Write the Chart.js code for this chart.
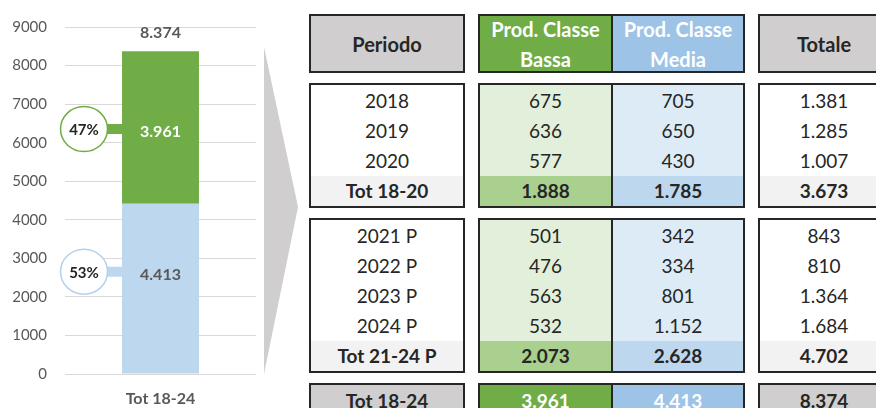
<!DOCTYPE html>
<html><head><meta charset="utf-8">
<script src="https://cdn.jsdelivr.net/npm/chart.js@4.4.1/dist/chart.umd.min.js"></script>
<style>
html,body{margin:0;padding:0;background:#fff;width:876px;height:408px;overflow:hidden;font-family:Lato,sans-serif;}
#wrap{position:relative;width:876px;height:408px;overflow:hidden;}
#chart{position:absolute;left:0;top:0;}
.box{position:absolute;box-sizing:border-box;border:2px solid #262626;overflow:hidden;display:flex;flex-direction:column;}
.row{display:flex;flex:none;width:100%;}
.cell{display:flex;align-items:center;justify-content:center;box-sizing:border-box;color:#262626;font-size:19px;white-space:nowrap;text-align:center;}
</style></head><body>
<div id="wrap">
<svg width="876" height="408" style="position:absolute;left:0;top:0"><polygon points="264,47 298,207 264,374" fill="#d0cece"/></svg>
<canvas id="chart" width="256" height="408"></canvas>
<div id="table"></div>
</div>
<script>
// ---- data ----
const categories = ['Tot 18-24'];
const serieBassa = [3961];
const serieMedia = [4413];
const serieTotale = [8374];

const headers = ['Periodo', 'Prod. Classe<br>Bassa', 'Prod. Classe<br>Media', 'Totale'];

const periodi1 = ['2018', '2019', '2020'];
const bassa1 = [675, 636, 577];
const media1 = [705, 650, 430];
const totale1 = [1381, 1285, 1007];
const sub1 = ['Tot 18-20', 1888, 1785, 3673];

const periodi2 = ['2021 P', '2022 P', '2023 P', '2024 P'];
const bassa2 = [501, 476, 563, 532];
const media2 = [342, 334, 801, 1152];
const totale2 = [843, 810, 1364, 1684];
const sub2 = ['Tot 21-24 P', 2073, 2628, 4702];

const finale = ['Tot 18-24', 3961, 4413, 8374];

// ---- helpers ----
function fmt(n){ return typeof n === 'number' ? String(n).replace(/\B(?=(\d{3})+(?!\d))/g, '.') : n; }

const STY = {
  header: {bg:['#d0cece','#70ad47','#9dc3e6','#d0cece'], fg:['#262626','#fff','#fff','#262626'], bold:true, size:20},
  row:    {bg:['#fff','#e2efda','#ddebf7','#fff'], fg:['#262626','#262626','#262626','#262626'], bold:false, size:19},
  sub:    {bg:['#f2f2f2','#a9d08e','#bdd7ee','#f2f2f2'], fg:['#262626','#262626','#262626','#262626'], bold:true, size:19},
  fin:    {bg:['#d0cece','#70ad47','#9dc3e6','#d0cece'], fg:['#262626','#fff','#fff','#262626'], bold:true, size:19}
};
const COLX = [{x:309,w:156},{x:478,w:267},{x:758,w:132}];
const T = document.getElementById('table');

function mkCell(text, kind, ci, w){
  const s = STY[kind];
  const c = document.createElement('div');
  c.className = 'cell';
  c.style.background = s.bg[ci];
  c.style.color = s.fg[ci];
  c.style.fontWeight = s.bold ? '700' : '400';
  c.style.fontSize = s.size + 'px';
  c.style.lineHeight = kind === 'header' ? '30px' : 'normal';
  if (w) { c.style.width = w + 'px'; c.style.flex = 'none'; } else { c.style.flex = '1'; }
  if (ci === 1) c.style.borderRight = '2px solid #262626';
  c.innerHTML = text;
  return c;
}

function band(y, h, rows){
  const boxes = COLX.map(cx => {
    const b = document.createElement('div');
    b.className = 'box';
    b.style.left = cx.x + 'px'; b.style.top = y + 'px';
    b.style.width = cx.w + 'px'; b.style.height = h + 'px';
    T.appendChild(b);
    return b;
  });
  const rh = (h - 4) / rows.length;
  rows.forEach(r => {
    const vals = r.vals;
    const r0 = document.createElement('div'); r0.className='row'; r0.style.height = rh+'px';
    r0.appendChild(mkCell(fmt(vals[0]), r.kind, 0)); boxes[0].appendChild(r0);
    const r1 = document.createElement('div'); r1.className='row'; r1.style.height = rh+'px';
    r1.appendChild(mkCell(fmt(vals[1]), r.kind, 1, 133));
    r1.appendChild(mkCell(fmt(vals[2]), r.kind, 2)); boxes[1].appendChild(r1);
    const r2 = document.createElement('div'); r2.className='row'; r2.style.height = rh+'px';
    r2.appendChild(mkCell(fmt(vals[3]), r.kind, 3)); boxes[2].appendChild(r2);
  });
}

band(14, 59, [{kind:'header', vals: headers}]);
band(83, 125, periodi1.map((p,i)=>({kind:'row', vals:[p, bassa1[i], media1[i], totale1[i]]})).concat([{kind:'sub', vals: sub1}]));
band(218, 155, periodi2.map((p,i)=>({kind:'row', vals:[p, bassa2[i], media2[i], totale2[i]]})).concat([{kind:'sub', vals: sub2}]));
band(383, 34, [{kind:'fin', vals: finale}]);

// ---- chart ----
const labelPlugin = {
  id: 'labelPlugin',
  afterDatasetsDraw(chart, args, opts){
    const ctx = chart.ctx;
    const total = serieTotale[0];
    const metas = [chart.getDatasetMeta(0), chart.getDatasetMeta(1)];
    ctx.save();
    metas.forEach((meta, i) => {
      const bar = meta.data[0];
      const ds = chart.data.datasets[i];
      const v = ds.data[0];
      const ly = bar.base + (bar.y - bar.base) * opts.frac[i];
      const left = bar.x - bar.width / 2;
      const cx = left - 38;
      // connector
      ctx.fillStyle = opts.connColor[i];
      ctx.fillRect(cx, ly - 5, left - cx, 10);
      // circle
      ctx.beginPath();
      ctx.ellipse(cx, ly, 23.5, 22.5, 0, 0, Math.PI * 2);
      ctx.fillStyle = '#fff';
      ctx.fill();
      ctx.lineWidth = 1.5;
      ctx.strokeStyle = opts.ringColor[i];
      ctx.stroke();
      ctx.textAlign = 'center';
      ctx.textBaseline = 'middle';
      ctx.font = 'bold 15px Lato';
      ctx.fillStyle = '#262626';
      ctx.fillText(Math.round(v / total * 100) + '%', cx, ly + 1);
      // value inside bar
      ctx.font = 'bold 16px Lato';
      ctx.fillStyle = opts.valColor[i];
      ctx.fillText(fmt(v), bar.x, ly + 3);
      if (i === 1) {
        ctx.fillStyle = '#595959';
        ctx.fillText(fmt(total), bar.x, bar.y - 18);
      }
    });
    ctx.restore();
  }
};

new Chart(document.getElementById('chart'), {
  type: 'bar',
  data: {
    labels: categories,
    datasets: [
      {label: 'Prod. Classe Media', data: serieMedia, backgroundColor: '#bdd7ee'},
      {label: 'Prod. Classe Bassa', data: serieBassa, backgroundColor: '#70ad47'}
    ]
  },
  options: {
    responsive: false,
    animation: false,
    devicePixelRatio: 1,
    layout: {padding: {top: 25, left: 0, right: 0, bottom: 0}},
    datasets: {bar: {barPercentage: 0.403, categoryPercentage: 1}},
    plugins: {
      legend: {display: false},
      tooltip: {enabled: false},
      labelPlugin: {
        frac: [0.6, 0.49],
        connColor: ['#bdd7ee', '#70ad47'],
        ringColor: ['#b4d1ec', '#70ad47'],
        valColor: ['#595959', '#ffffff']
      }
    },
    scales: {
      x: {
        stacked: true,
        grid: {display: false, drawTicks: false},
        border: {display: false},
        ticks: {color: '#595959', font: {family: 'Lato', size: 16, weight: 'bold'}, padding: 15},
        afterFit(s){ s.height = 34; }
      },
      y: {
        stacked: true,
        min: 0, max: 9000,
        grid: {color: '#d9d9d9', drawTicks: false},
        border: {display: false},
        ticks: {stepSize: 1000, color: '#595959', font: {family: 'Lato', size: 15}, padding: 18,
                callback: (v) => String(v)},
        afterFit(s){ s.width = 65; }
      }
    }
  },
  plugins: [labelPlugin]
});
</script>
</body></html>
